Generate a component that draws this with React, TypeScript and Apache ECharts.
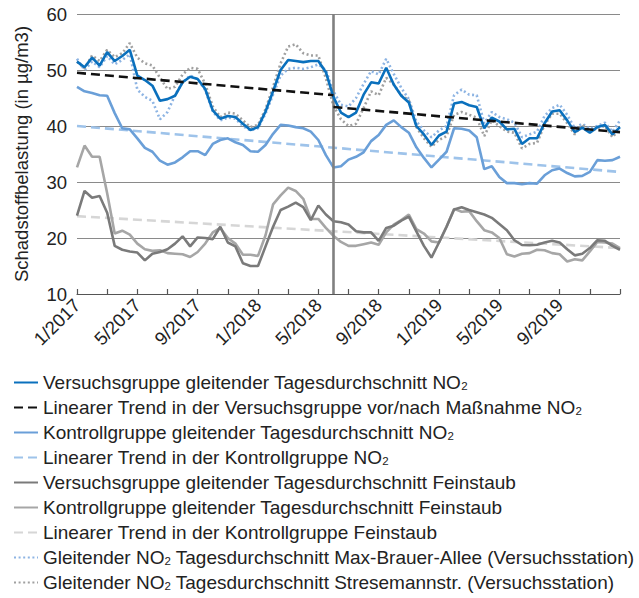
import React, { useEffect, useRef } from "react";
import * as echarts from "echarts";

// x positions: months since 1/2017, half-month steps
const months: number[] = Array.from({ length: 73 }, (_, i) => i / 2);
const tickLabels = ["1/2017", "5/2017", "9/2017", "1/2018", "5/2018", "9/2018", "1/2019", "5/2019", "9/2019"];
const measureMonth = 17;

const vgNO2 = [51.5, 50.5, 52.2, 50.8, 53.2, 51.6, 52.5, 53.6, 49, 48.2, 47.2, 44.5, 44.8, 45.4, 47.8, 48.8, 48.4, 46.6, 42.8, 41.3, 41.8, 41.6, 40.4, 39.3, 39.8, 42.6, 46.2, 50, 51.8, 51.6, 51.4, 51.6, 51.6, 49.6, 45.2, 42.4, 41.6, 42.4, 45.6, 47.8, 47.6, 50.4, 47.4, 45.4, 44.2, 40, 38.5, 36.6, 38.3, 39, 44, 44.3, 43.7, 43.4, 39.6, 41.5, 40.8, 39.4, 39.5, 36.8, 37.8, 37.8, 40.5, 42.6, 42.8, 41, 38.9, 39.7, 38.8, 39.8, 40.2, 38.5, 39.8];
const maxBrauer = [52, 50, 51.5, 50.5, 52.5, 51, 51.8, 52.8, 46.5, 45.2, 44.5, 41.2, 42.5, 45.5, 47.8, 49, 48.4, 46.4, 42.6, 41, 41.5, 41.3, 40, 39.2, 39.6, 42.2, 45.6, 49, 50.2, 50.4, 50.2, 50.5, 51, 50, 46.2, 43.8, 43.5, 45, 47.5, 49.8, 49.2, 52, 49.3, 46.8, 44.8, 40.8, 39.2, 38, 39.2, 40, 45.5, 46.5, 45.6, 45.5, 40.5, 42.5, 41.6, 41.2, 40.6, 38, 38.5, 39, 41.8, 43.2, 43.8, 42, 39.6, 40.4, 39.5, 40, 40.6, 39, 41];
const stresemann = [51.5, 50.3, 52.6, 51.6, 53.6, 52.3, 53, 54.8, 52.2, 51.2, 50.8, 48.6, 46.6, 47, 49.2, 50.4, 50.2, 47.5, 43.5, 41.6, 42.4, 42.2, 41, 39.8, 40.2, 43, 47, 51.2, 54.2, 54.6, 53, 52.6, 52.6, 48.5, 43.6, 41.2, 40, 40.4, 43.2, 46.2, 45.5, 48.6, 47.4, 45.5, 44.6, 39.8, 37.8, 36.3, 37.5, 38.2, 42, 42.5, 42, 41.5, 38.2, 41, 40, 39, 38.8, 36, 36.8, 37, 40.2, 42.2, 42.2, 40.5, 38.5, 40.2, 39, 39.6, 40, 38, 39.5];
const kgNO2 = [47, 46.2, 45.9, 45.5, 45.4, 42.3, 39.6, 39.4, 37.8, 36.1, 35.4, 33.8, 33.1, 33.5, 34.4, 35.5, 35.5, 34.8, 36.8, 37.5, 37.8, 37.1, 36.6, 35.5, 35.4, 36.6, 38.6, 40.2, 40.1, 39.8, 39.6, 39, 37.5, 34.8, 32.6, 32.8, 34, 34.5, 35.3, 37.3, 38.4, 40.2, 41, 39.8, 38.8, 36.2, 34.3, 32.6, 34, 35.4, 39.6, 39.5, 39.2, 38, 32.3, 32.8, 30.9, 29.8, 29.8, 29.6, 29.8, 29.7, 31.2, 32.1, 32.4, 31.6, 31, 31.1, 31.8, 33.9, 33.8, 33.9, 34.5];
const vgPM = [24, 28.4, 27.2, 27.5, 24.5, 18.6, 17.9, 17.6, 17.4, 16, 17.2, 17.5, 18, 19, 20.3, 18.5, 20.1, 20, 19.8, 22, 19.2, 18.5, 15.5, 15, 15, 18.5, 22, 25, 25.6, 26.3, 25.5, 23.2, 25.8, 24.2, 23, 22.8, 22.4, 21.2, 21, 21, 19.5, 21.8, 22.2, 23.1, 23.8, 21.2, 18.6, 16.5, 19.2, 22, 25.1, 25.5, 25, 24.6, 24.2, 23.6, 22.5, 21.4, 19.6, 18.75, 18.7, 18.8, 19.2, 19.5, 19.2, 18, 16.9, 17.2, 18.2, 19.6, 19.5, 18.6, 17.9];
const kgPM = [32.6, 36.5, 34.5, 34.5, 28, 20.8, 21.3, 20.6, 19, 18, 17.7, 17.8, 17.3, 17.2, 17.1, 16.6, 17.5, 19, 21, 21.8, 20, 19, 17, 17, 16.8, 20.5, 26, 27.6, 29, 28.4, 27, 23.4, 23.4, 21.8, 20.4, 19.3, 18.6, 18.6, 18.9, 19.2, 18.8, 21, 22.4, 23.2, 24.2, 21.6, 20.8, 19.4, 19.2, 22, 25.2, 24.7, 24.8, 23, 21.4, 21, 20, 17.1, 16.7, 17.2, 17.3, 17.9, 17.8, 17.3, 17.1, 15.8, 16.2, 16, 17.6, 19.3, 19.2, 19, 18.2];

// linear trends: [start, end] values
const trendVgBefore = [49.5, 45.5];
const trendVgAfter = [43.4, 38.9];
const trendKgNO2 = [40, 31.8];
const trendKgPM = [23.9, 18.2];

const names = [
  "Versuchsgruppe gleitender Tagesdurchschnitt NO2",
  "Linearer Trend in der Versuchsgruppe vor/nach Maßnahme NO2",
  "Kontrollgruppe gleitender Tagesdurchschnitt NO2",
  "Linearer Trend in der Kontrollgruppe NO2",
  "Versuchsgruppe gleitender Tagesdurchschnitt Feinstaub",
  "Kontrollgruppe gleitender Tagesdurchschnitt Feinstaub",
  "Linearer Trend in der Kontrollgruppe Feinstaub",
  "Gleitender NO2 Tagesdurchschnitt Max-Brauer-Allee (Versuchsstation)",
  "Gleitender NO2 Tagesdurchschnitt Stresemannstr. (Versuchsstation)",
];

const pair = (vals: number[]) => months.map((m, i) => [m, vals[i]]);

export default function App() {
  const ref = useRef<HTMLDivElement>(null);
  useEffect(() => {
    document.body.style.margin = "0";
    if (!ref.current) return;
    const chart = echarts.init(ref.current, null, { renderer: "svg" });
    const font = "'Liberation Sans', Arial, Helvetica, sans-serif";
    const lw = 2.6;
    const line = (name: string, data: any[], color: string, type: any = "solid", extra: any = {}) => ({
      name,
      type: "line",
      data,
      symbol: "none",
      showSymbol: false,
      lineStyle: { color, width: lw, type },
      itemStyle: { color },
      ...extra,
    });
    chart.setOption({
      animation: false,
      textStyle: { fontFamily: font },
      grid: { left: 77, right: 19, top: 14, bottom: 304, containLabel: false },
      legend: {
        data: names,
        orient: "vertical",
        left: 13,
        top: 373,
        height: 225,
        padding: 0,
        itemWidth: 24,
        itemHeight: 14,
        itemGap: 6,
        itemStyle: { opacity: 0 },
        formatter: (n: string) => n.replace("NO2", "NO{sub|2}"),
        textStyle: {
          fontFamily: font,
          fontSize: 19,
          color: "#222",
          lineHeight: 18,
          rich: {
            sub: { fontFamily: font, fontSize: 11.5, lineHeight: 10, verticalAlign: "bottom", color: "#222" },
          },
        },
      },
      xAxis: {
        type: "value",
        min: 0,
        max: 36,
        interval: 2,
        axisLine: { show: true, onZero: false, lineStyle: { color: "#555", width: 1.2 } },
        axisTick: { show: true, inside: true, length: 5, lineStyle: { color: "#555", width: 1.2 } },
        splitLine: { show: false },
        axisLabel: {
          rotate: 45,
          fontSize: 18.5,
          color: "#222",
          fontFamily: font,
          margin: 8,
          formatter: (v: number) => (v % 4 === 0 && v / 4 < tickLabels.length ? tickLabels[v / 4] : ""),
        },
      },
      yAxis: {
        type: "value",
        min: 10,
        max: 60,
        interval: 10,
        name: "Schadstoffbelastung (in µg/m3)",
        nameLocation: "middle",
        nameGap: 46,
        nameTextStyle: { fontSize: 18.5, color: "#222", fontFamily: font },
        axisLine: { show: false },
        axisTick: { show: false },
        splitLine: { lineStyle: { color: "#8a8a8a", width: 1.2 } },
        axisLabel: { fontSize: 18.5, color: "#222", fontFamily: font, margin: 10 },
      },
      series: [
        line(names[7], pair(maxBrauer), "#8db4e3", [2, 2.6], { z: 2 }),
        line(names[8], pair(stresemann), "#a0a0a0", [2, 2.6], { z: 2 }),
        line(names[6], [[0, trendKgPM[0]], [36, trendKgPM[1]]], "#d6d6d6", [9, 5], { z: 3 }),
        line(names[3], [[0, trendKgNO2[0]], [36, trendKgNO2[1]]], "#9ec3ea", [9, 5], { z: 3 }),
        line(names[5], pair(kgPM), "#a6a6a6", "solid", { z: 4 }),
        line(names[4], pair(vgPM), "#7a7a7a", "solid", { z: 4 }),
        line(names[2], pair(kgNO2), "#6a9fd8", "solid", { z: 4 }),
        line(names[0], pair(vgNO2), "#0a70bd", "solid", {
          z: 5,
          markLine: {
            silent: true,
            symbol: ["none", "none"],
            label: { show: false },
            lineStyle: { color: "#808080", width: 2.6, type: "solid" },
            data: [{ xAxis: measureMonth }],
          },
        }),
        line(
          names[1],
          [
            [0, trendVgBefore[0]],
            [measureMonth, trendVgBefore[1]],
            [measureMonth, "-"],
            [measureMonth, trendVgAfter[0]],
            [36, trendVgAfter[1]],
          ],
          "#111",
          [9, 5],
          { z: 6 }
        ),
      ],
    });
    return () => chart.dispose();
  }, []);
  return <div ref={ref} style={{ width: 639, height: 598 }} />;
}
